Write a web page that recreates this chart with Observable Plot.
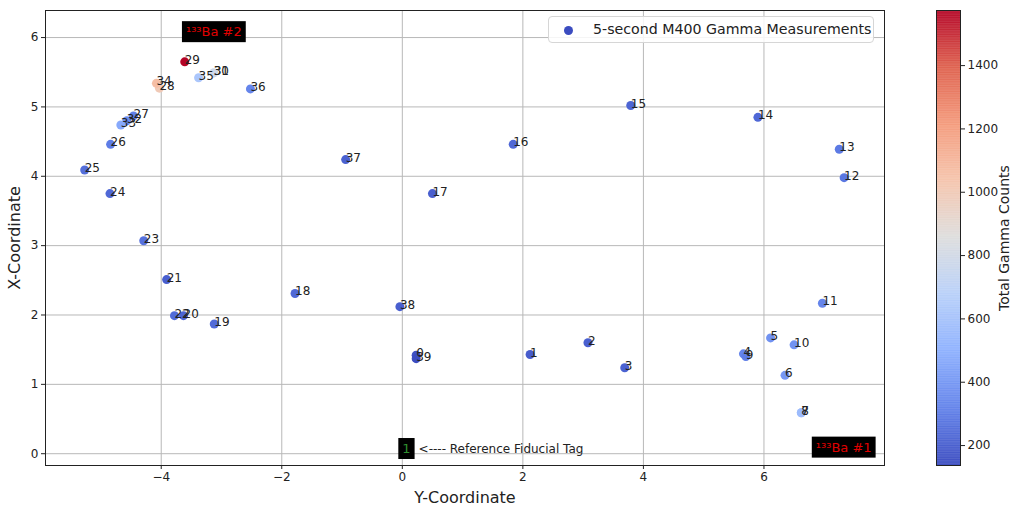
<!DOCTYPE html>
<html><head><meta charset="utf-8">
<script src="https://cdn.jsdelivr.net/npm/d3@7"></script>
<script src="https://cdn.jsdelivr.net/npm/@observablehq/plot@0.6"></script>
<style>
body{margin:0;background:#fff;font-family:"DejaVu Sans",sans-serif;}
#wrap{position:relative;width:1013px;height:508px;overflow:hidden;}
#main{position:absolute;left:0;top:0;}
#cbar{position:absolute;left:900px;top:0;}
#legend{position:absolute;left:548px;top:16px;width:326px;height:27px;border:1px solid #d6d6d6;border-radius:4px;background:rgba(255,255,255,0.85);box-sizing:border-box;font-size:14.2px;color:#222;}
#legend .dot{position:absolute;left:15px;top:9px;width:9px;height:9px;border-radius:50%;}
#legend .lab{position:absolute;left:44px;top:4px;white-space:nowrap;}
</style></head><body><div id="wrap"><div id="main"></div><div id="cbar"></div><div id="legend"><span class="dot"></span><span class="lab"></span></div></div>
<script>
// measurement ids
const ids = [0,1,2,3,4,5,6,7,8,9,10,11,12,13,14,15,16,17,18,19,20,21,22,23,24,25,26,27,28,29,30,31,32,33,34,35,36,37,38,39];
// horizontal axis "Y-Coordinate"
const yCoord = [0.23,2.12,3.08,3.69,5.66,6.11,6.35,6.62,6.62,5.70,6.50,6.97,7.33,7.25,5.90,3.79,1.84,0.50,-1.78,-3.12,-3.63,-3.91,-3.78,-4.29,-4.85,-5.27,-4.84,-4.46,-4.03,-3.61,-3.13,-3.13,-4.57,-4.67,-4.08,-3.38,-2.52,-0.94,-0.04,0.23];
// vertical axis "X-Coordinate"
const xCoord = [1.42,1.43,1.60,1.24,1.44,1.67,1.13,0.59,0.59,1.40,1.57,2.17,3.98,4.39,4.85,5.02,4.46,3.75,2.31,1.87,1.99,2.51,1.99,3.07,3.75,4.09,4.46,4.87,5.27,5.65,5.49,5.49,4.80,4.74,5.34,5.42,5.26,4.24,2.12,1.37];
// total gamma counts per measurement
const counts = [150,190,200,210,330,380,400,560,560,300,380,330,280,290,230,220,230,200,230,240,220,200,240,260,230,250,300,310,1000,1574,780,780,360,470,1060,620,330,210,200,137];

const xTicks = [-4,-2,0,2,4,6];
const yTicks = [0,1,2,3,4,5,6];
const cTicks = [200,400,600,800,1000,1200,1400];
const cRange = [137,1574];
const coolwarm = ["#3b4cc0","#6282ea","#8db0fe","#b8d0f9","#dddddd","#f5c4ac","#f49a7b","#de604d","#b40426"];

const annoText = ["¹³³Ba #2","¹³³Ba #1","1"];
const annoX = [-3.59,6.86,0.0];
const annoY = [6.08,0.09,0.07];
const annoColor = ["#e00000","#e00000","#2f8f2f"];
const noteText = ["<---- Reference Fiducial Tag"];
const noteX = [0.27];
const noteY = [0.07];

const legendLabel = "5-second M400 Gamma Measurements";

const pts = ids.map((id,i)=>({id, h:yCoord[i], v:xCoord[i], c:counts[i]}));
const annos = annoText.map((t,i)=>({t, x:annoX[i], y:annoY[i], col:annoColor[i]}));
const notes = noteText.map((t,i)=>({t, x:noteX[i], y:noteY[i]}));
const fmt = d => d < 0 ? "\u2212" + (-d) : String(d);
const colorScale = {type:"linear", domain: coolwarm.map((_,i)=>cRange[0] + i*(cRange[1]-cRange[0])/(coolwarm.length-1)), range: coolwarm, interpolate:"rgb"};

const main = Plot.plot({
  width: 900, height: 508,
  marginLeft: 45, marginRight: 16, marginTop: 10, marginBottom: 43,
  style: {fontFamily: "DejaVu Sans", fontSize: "12px", color: "#222", background: "transparent"},
  x: {domain: [-5.92, 8.0], ticks: xTicks, tickSize: 4, tickPadding: 3, tickFormat: fmt, label: "Y-Coordinate", labelAnchor: "center", labelOffset: 37, labelArrow: "none"},
  y: {domain: [-0.17, 6.39], ticks: yTicks, tickSize: 4, tickPadding: 3, tickFormat: fmt, label: "X-Coordinate", labelAnchor: "center", labelOffset: 37, labelArrow: "none"},
  color: colorScale,
  marks: [
    Plot.ruleX(xTicks, {stroke: "#b8b8b8", strokeWidth: 1}),
    Plot.ruleY(yTicks, {stroke: "#b8b8b8", strokeWidth: 1}),
    Plot.dot(pts, {x: "h", y: "v", fill: "c", r: 4.5}),
    Plot.text(pts, {x: "h", y: "v", text: d => String(d.id), textAnchor: "start", lineAnchor: "bottom", dx: 0, dy: 2, fill: "#222", fontSize: 12}),
    Plot.text(annos, {x: "x", y: "y", text: "t", fill: "col", textAnchor: "start", lineAnchor: "middle", fontSize: 13}),
    Plot.text(notes, {x: "x", y: "y", text: "t", fill: "#222", textAnchor: "start", lineAnchor: "middle", fontSize: 12}),
    Plot.frame({stroke: "#222"})
  ]
});
document.getElementById("main").appendChild(main);

// enlarge axis labels
d3.select(main).selectAll('g[aria-label="x-axis label"] text, g[aria-label="y-axis label"] text').style("font-size", "16px");

// black boxes behind annotation texts (second text mark)
const textGroups = main.querySelectorAll('g[aria-label="text"]');
if (textGroups.length > 1) {
  textGroups[1].querySelectorAll("text").forEach(function(t){
    const b = t.getBBox();
    const pad = 4;
    const r = document.createElementNS("http://www.w3.org/2000/svg", "rect");
    r.setAttribute("x", b.x - pad); r.setAttribute("y", b.y - pad + 1);
    r.setAttribute("width", b.width + 2*pad); r.setAttribute("height", b.height + 2*pad - 2);
    r.setAttribute("fill", "#000");
    const tr = t.getAttribute("transform"); if (tr) r.setAttribute("transform", tr);
    t.parentNode.insertBefore(r, t);
  });
}

const step = 2;
const cb = Plot.plot({
  width: 113, height: 508,
  marginLeft: 36, marginRight: 53, marginTop: 10, marginBottom: 43,
  style: {fontFamily: "DejaVu Sans", fontSize: "12px", color: "#222", background: "transparent"},
  x: {axis: null},
  y: {domain: cRange, ticks: cTicks, tickSize: 4, tickPadding: 3, tickFormat: d => String(d), axis: "right", label: "Total Gamma Counts", labelAnchor: "center", labelOffset: 48, labelArrow: "none"},
  color: colorScale,
  marks: [
    Plot.rect(d3.range(cRange[0], cRange[1], step), {y1: d => d, y2: d => Math.min(d + step + 1, cRange[1]), fill: d => d}),
    Plot.frame({stroke: "#222"})
  ]
});
document.getElementById("cbar").appendChild(cb);
d3.select(cb).selectAll('g[aria-label="y-axis label"] text').style("font-size", "14px");

const dotColor = main.scale("color").apply(cRange[0]);
document.querySelector("#legend .dot").style.background = dotColor;
document.querySelector("#legend .lab").textContent = legendLabel;
</script></body></html>
